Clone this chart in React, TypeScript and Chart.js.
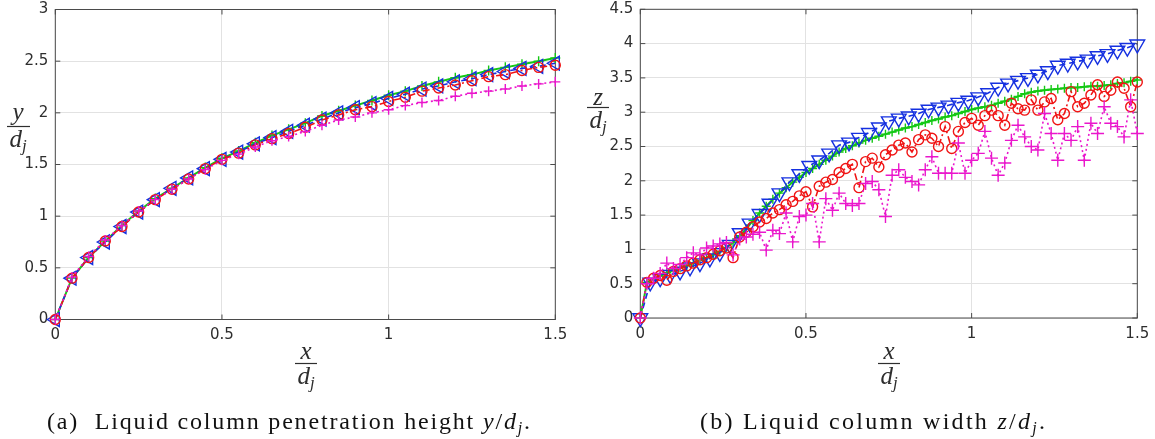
import React, { useEffect, useRef } from 'react';
import { Chart, registerables } from 'chart.js';

Chart.register(...registerables);

// ---------- data ----------
const X_TICKS = [0, 0.5, 1, 1.5];
const Y_TICKS_A = [0, 0.5, 1, 1.5, 2, 2.5, 3];
const Y_TICKS_B = [0, 0.5, 1, 1.5, 2, 2.5, 3, 3.5, 4, 4.5];

// (a) penetration height y/dj
const XA = [0, 0.05, 0.1, 0.15, 0.2, 0.25, 0.3, 0.35, 0.4, 0.45, 0.5, 0.55, 0.6, 0.65, 0.7, 0.75, 0.8, 0.85, 0.9, 0.95, 1, 1.05, 1.1, 1.15, 1.2, 1.25, 1.3, 1.35, 1.4, 1.45, 1.5];
const A_GREEN = [0, 0.40, 0.60, 0.76, 0.91, 1.05, 1.17, 1.27, 1.37, 1.47, 1.56, 1.63, 1.71, 1.78, 1.84, 1.90, 1.97, 2.02, 2.07, 2.12, 2.17, 2.21, 2.26, 2.30, 2.34, 2.37, 2.41, 2.44, 2.47, 2.50, 2.53];
const A_BLUE = [0, 0.40, 0.60, 0.75, 0.90, 1.04, 1.16, 1.27, 1.37, 1.46, 1.55, 1.62, 1.70, 1.76, 1.82, 1.88, 1.94, 2.00, 2.05, 2.09, 2.14, 2.18, 2.23, 2.26, 2.30, 2.33, 2.37, 2.40, 2.43, 2.45, 2.48];
const A_RED = [0, 0.40, 0.60, 0.76, 0.90, 1.04, 1.16, 1.26, 1.36, 1.46, 1.55, 1.61, 1.69, 1.75, 1.80, 1.86, 1.93, 1.98, 2.03, 2.06, 2.11, 2.15, 2.21, 2.24, 2.27, 2.31, 2.35, 2.37, 2.41, 2.44, 2.46];
const A_MAGENTA = [0, 0.41, 0.61, 0.77, 0.91, 1.05, 1.16, 1.26, 1.36, 1.45, 1.54, 1.60, 1.67, 1.73, 1.77, 1.82, 1.88, 1.93, 1.96, 2.00, 2.03, 2.07, 2.10, 2.12, 2.16, 2.19, 2.21, 2.23, 2.26, 2.28, 2.30];

// (b) width z/dj
const XB = [0, 0.02, 0.04, 0.06, 0.08, 0.1, 0.12, 0.14, 0.16, 0.18,
  0.2, 0.22, 0.24, 0.26, 0.28, 0.3, 0.32, 0.34, 0.36, 0.38,
  0.4, 0.42, 0.44, 0.46, 0.48, 0.5, 0.52, 0.54, 0.56, 0.58,
  0.6, 0.62, 0.64, 0.66, 0.68, 0.7, 0.72, 0.74, 0.76, 0.78,
  0.8, 0.82, 0.84, 0.86, 0.88, 0.9, 0.92, 0.94, 0.96, 0.98,
  1, 1.02, 1.04, 1.06, 1.08, 1.1, 1.12, 1.14, 1.16, 1.18,
  1.2, 1.22, 1.24, 1.26, 1.28, 1.3, 1.32, 1.34, 1.36, 1.38,
  1.4, 1.42, 1.44, 1.46, 1.48, 1.5];
const B_GREEN = [0, 0.52, 0.57, 0.61, 0.66, 0.70, 0.73, 0.76, 0.80, 0.84,
  0.88, 0.92, 0.97, 1.03, 1.10, 1.20, 1.30, 1.42, 1.53, 1.63,
  1.73, 1.82, 1.90, 1.98, 2.05, 2.12, 2.18, 2.24, 2.30, 2.36,
  2.42, 2.47, 2.51, 2.55, 2.59, 2.62, 2.65, 2.68, 2.71, 2.74,
  2.77, 2.79, 2.82, 2.85, 2.88, 2.90, 2.93, 2.95, 2.98, 3.01,
  3.04, 3.06, 3.08, 3.10, 3.13, 3.16, 3.19, 3.23, 3.27, 3.29,
  3.31, 3.32, 3.33, 3.34, 3.35, 3.36, 3.36, 3.37, 3.38, 3.38,
  3.39, 3.40, 3.42, 3.43, 3.45, 3.47];
const XB_BLUE = [0, 0.03, 0.06, 0.09, 0.12, 0.15, 0.18, 0.21, 0.24, 0.27,
  0.3, 0.33, 0.36, 0.39, 0.42, 0.45, 0.48, 0.51, 0.54, 0.57,
  0.6, 0.63, 0.66, 0.69, 0.72, 0.75, 0.78, 0.81, 0.84, 0.87,
  0.9, 0.93, 0.96, 0.99, 1.02, 1.05, 1.08, 1.11, 1.14, 1.17,
  1.2, 1.23, 1.26, 1.29, 1.32, 1.35, 1.38, 1.41, 1.44, 1.47, 1.5];
const B_BLUE = [0, 0.52, 0.58, 0.63, 0.68, 0.74, 0.80, 0.87, 0.95, 1.07,
  1.24, 1.38, 1.52, 1.67, 1.82, 1.98, 2.10, 2.22, 2.30, 2.40,
  2.52, 2.56, 2.63, 2.70, 2.78, 2.87, 2.91, 2.94, 2.98, 3.04,
  3.07, 3.10, 3.14, 3.17, 3.22, 3.28, 3.36, 3.42, 3.46, 3.50,
  3.55, 3.60, 3.68, 3.71, 3.74, 3.77, 3.82, 3.85, 3.90, 3.94, 3.99];
const B_RED = [0, 0.52, 0.58, 0.62, 0.55, 0.68, 0.72, 0.76, 0.80, 0.85,
  0.88, 0.93, 0.98, 1.02, 0.88, 1.18, 1.25, 1.33, 1.40, 1.45,
  1.53, 1.58, 1.65, 1.70, 1.78, 1.84, 1.62, 1.92, 1.98, 2.02,
  2.12, 2.18, 2.24, 1.90, 2.28, 2.33, 2.20, 2.38, 2.45, 2.52,
  2.55, 2.42, 2.60, 2.67, 2.62, 2.50, 2.79, 2.47, 2.72, 2.85,
  2.91, 2.81, 2.95, 3.03, 2.95, 2.81, 3.13, 3.05, 3.03, 3.18,
  3.03, 3.15, 3.20, 2.89, 2.98, 3.30, 3.08, 3.13, 3.25, 3.40,
  3.23, 3.32, 3.44, 3.35, 3.08, 3.44];
const B_MAGENTA = [0, 0.50, 0.58, 0.65, 0.80, 0.72, 0.78, 0.88, 0.95, 0.92,
  1.02, 1.05, 1.08, 1.10, 0.92, 1.15, 1.18, 1.22, 1.25, 0.99,
  1.28, 1.23, 1.53, 1.11, 1.48, 1.50, 1.67, 1.11, 1.74, 1.57,
  1.82, 1.67, 1.64, 1.67, 1.96, 1.99, 1.87, 1.48, 2.08, 2.16,
  2.05, 1.99, 1.94, 2.16, 2.35, 2.11, 2.11, 2.11, 2.55, 2.11,
  2.30, 2.40, 2.72, 2.33, 2.08, 2.26, 2.59, 2.81, 2.64, 2.50,
  2.45, 2.98, 2.69, 2.30, 2.69, 2.59, 2.79, 2.30, 2.84, 2.69,
  3.08, 2.84, 2.79, 2.64, 3.18, 2.69];

// ---------- styling ----------
const GREEN = '#14c814';
const BLUE = '#1530e0';
const RED = '#f01414';
const MAGENTA = '#ea16cc';
const AXIS = '#4a4a4a';
const GRID = '#e2e2e2';
const TEXT = '#2e2e2e';
const CANVAS_TOP = -40; // canvas is shifted up; top padding compensates

const framePlugin = {
  id: 'mframe',
  beforeDatasetsDraw(chart: any) {
    const { ctx, chartArea } = chart;
    const { left, right, top, bottom } = chartArea;
    const xs = chart.scales.x;
    const ys = chart.scales.y;
    ctx.save();
    ctx.strokeStyle = AXIS;
    ctx.lineWidth = 1;
    ctx.beginPath();
    xs.ticks.forEach((t: any) => {
      const p = xs.getPixelForValue(t.value);
      ctx.moveTo(p, bottom); ctx.lineTo(p, bottom - 5);
      ctx.moveTo(p, top); ctx.lineTo(p, top + 5);
    });
    ys.ticks.forEach((t: any) => {
      const p = ys.getPixelForValue(t.value);
      ctx.moveTo(left, p); ctx.lineTo(left + 5, p);
      ctx.moveTo(right, p); ctx.lineTo(right - 5, p);
    });
    ctx.stroke();
    ctx.strokeRect(left, top, right - left, bottom - top);
    ctx.restore();
  },
};

function ds(xs: number[], ys: number[], color: string, style: string, radius: number, dash: number[], width: number, rotation = 0) {
  return {
    data: xs.map((x, i) => ({ x, y: ys[i] })),
    borderColor: color,
    backgroundColor: 'rgba(0,0,0,0)',
    borderWidth: width,
    borderDash: dash,
    pointStyle: style,
    pointRadius: radius,
    pointBorderColor: color,
    pointBackgroundColor: 'rgba(0,0,0,0)',
    pointBorderWidth: 1.4,
    pointRotation: rotation,
    clip: false,
    tension: 0,
  };
}

function makeOptions(yTicks: number[], yMax: number, padTop: number, padRight: number, yWidth: number, xHeight: number) {
  const tickFont = { family: 'DejaVu Sans', size: 15 };
  return {
    animation: false,
    responsive: false,
    events: [],
    layout: { padding: { top: padTop - CANVAS_TOP, right: padRight, left: 0, bottom: 0 } },
    plugins: { legend: { display: false }, tooltip: { enabled: false } },
    scales: {
      x: {
        type: 'linear',
        min: 0,
        max: 1.5,
        afterBuildTicks: (s: any) => { s.ticks = X_TICKS.map((v) => ({ value: v })); },
        afterFit: (s: any) => { s.height = xHeight; },
        grid: { color: GRID, drawTicks: false, lineWidth: 1 },
        border: { display: false },
        ticks: { padding: 7, color: TEXT, font: tickFont, callback: (v: any) => String(v), maxRotation: 0 },
      },
      y: {
        type: 'linear',
        min: 0,
        max: yMax,
        afterBuildTicks: (s: any) => { s.ticks = yTicks.map((v) => ({ value: v })); },
        afterFit: (s: any) => { s.width = yWidth; },
        grid: { color: GRID, drawTicks: false, lineWidth: 1 },
        border: { display: false },
        ticks: { padding: 7, color: TEXT, font: tickFont, callback: (v: any) => String(v) },
      },
    },
  };
}

const CANVAS_H = 345 - CANVAS_TOP;

function ChartCanvas({ left, config }: { left: number; config: any }) {
  const ref = useRef<HTMLCanvasElement | null>(null);
  useEffect(() => {
    if (!ref.current) return;
    const chart = new Chart(ref.current, config);
    return () => chart.destroy();
  }, []);
  return <canvas ref={ref} width={575} height={CANVAS_H} style={{ position: 'absolute', left, top: CANVAS_TOP, width: 575, height: CANVAS_H }} />;
}

const configA = {
  type: 'line',
  data: {
    datasets: [
      ds(XA, A_MAGENTA, MAGENTA, 'cross', 5, [2, 3], 1.6),
      ds(XA, A_RED, RED, 'circle', 5, [7, 3, 2, 3], 1.6),
      ds(XA, A_BLUE, BLUE, 'triangle', 8, [6, 4], 1.6, 270),
      ds(XA, A_GREEN, GREEN, 'cross', 5, [], 2),
    ],
  },
  options: makeOptions(Y_TICKS_A, 3, 9.5, 19.7, 55.3, 25.5),
  plugins: [framePlugin],
};

const configB = {
  type: 'line',
  data: {
    datasets: [
      ds(XB, B_MAGENTA, MAGENTA, 'cross', 6.5, [2, 3], 1.6),
      ds(XB, B_RED, RED, 'circle', 5, [7, 3, 2, 3], 1.6),
      ds(XB_BLUE, B_BLUE, BLUE, 'triangle', 8.5, [6, 4], 1.6, 180),
      ds(XB, B_GREEN, GREEN, 'cross', 4.5, [], 2),
    ],
  },
  options: makeOptions(Y_TICKS_B, 4.5, 9.3, 22.7, 55.3, 27),
  plugins: [framePlugin],
};

const SERIF = 'Liberation Serif';

function Frac({ cx, lineY, x1, x2, num, numOff }: { cx: number; lineY: number; x1: number; x2: number; num: string; numOff: number }) {
  return (
    <g fill={TEXT} fontFamily={SERIF} fontStyle="italic" fontSize={25}>
      <text x={cx} y={lineY - numOff} textAnchor="middle">{num}</text>
      <line x1={x1} x2={x2} y1={lineY} y2={lineY} stroke={TEXT} strokeWidth={1.2} />
      <text x={cx} y={lineY + 20} textAnchor="middle">d<tspan fontSize={17} dy={4}>j</tspan></text>
    </g>
  );
}

export default function App() {
  return (
    <div style={{ position: 'absolute', left: 0, top: 0, width: 1155, height: 439, background: '#fff', overflow: 'hidden' }}>
      <ChartCanvas left={0} config={configA} />
      <ChartCanvas left={585} config={configB} />
      <svg width={1155} height={439} style={{ position: 'absolute', left: 0, top: 0, pointerEvents: 'none' }}>
        <Frac cx={18} lineY={126.5} x1={7} x2={30} num="y" numOff={7} />
        <Frac cx={598} lineY={107.5} x1={587} x2={609} num="z" numOff={3} />
        <Frac cx={306} lineY={363.5} x1={295} x2={317} num="x" numOff={5} />
        <Frac cx={889} lineY={363.5} x1={878} x2={900} num="x" numOff={5} />
        <text x={47} y={429} fontFamily={SERIF} fontSize={24} fill="#111" textLength={483} lengthAdjust="spacing" style={{ whiteSpace: 'pre' }}>
          (a)  Liquid column penetration height <tspan fontStyle="italic">y</tspan>/<tspan fontStyle="italic">d</tspan><tspan fontStyle="italic" fontSize={16} dy={4}>j</tspan><tspan dy={-4}>.</tspan>
        </text>
        <text x={700} y={429} fontFamily={SERIF} fontSize={24} fill="#111" textLength={345} lengthAdjust="spacing" style={{ whiteSpace: 'pre' }}>
          (b) Liquid column width <tspan fontStyle="italic">z</tspan>/<tspan fontStyle="italic">d</tspan><tspan fontStyle="italic" fontSize={16} dy={4}>j</tspan><tspan dy={-4}>.</tspan>
        </text>
      </svg>
    </div>
  );
}
